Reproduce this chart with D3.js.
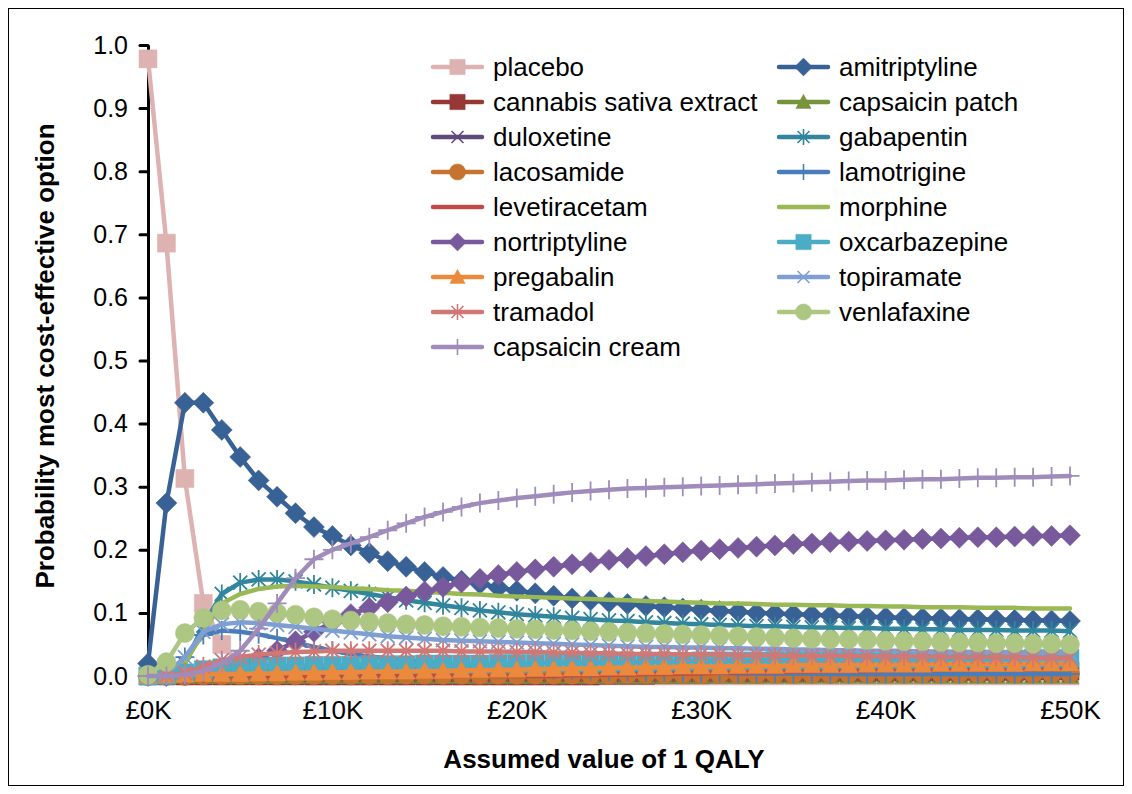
<!DOCTYPE html>
<html><head><meta charset="utf-8">
<script src="https://cdn.jsdelivr.net/npm/d3@7"></script>
<style>body{margin:0;background:#fff}svg{display:block}text{font-family:Arial,"Liberation Sans",sans-serif;fill:#000}</style>
</head><body><svg id="c" width="1132" height="794"></svg>
<script>
const wtpK = [0,1,2,3,4,5,6,7,8,9,10,11,12,13,14,15,16,17,18,19,20,21,22,23,24,25,26,27,28,29,30,31,32,33,34,35,36,37,38,39,40,41,42,43,44,45,46,47,48,49,50];
const xTickValues = [0,10,20,30,40,50];
const xTickLabels = ["£0K","£10K","£20K","£30K","£40K","£50K"];
const yTickValues = [0,0.1,0.2,0.3,0.4,0.5,0.6,0.7,0.8,0.9,1.0];
const yTickLabels = ["0.0","0.1","0.2","0.3","0.4","0.5","0.6","0.7","0.8","0.9","1.0"];

const seriesNames = ["placebo","amitriptyline","cannabis sativa extract","capsaicin patch","duloxetine","gabapentin","lacosamide","lamotrigine","levetiracetam","morphine","nortriptyline","oxcarbazepine","pregabalin","topiramate","tramadol","venlafaxine","capsaicin cream"];

const placebo = [0.978,0.686,0.313,0.115,0.05,0.02,0.008,0.003,0.001,0,0,0,0,0,0,0,0,0,0,0,0,0,0,0,0,0,0,0,0,0,0,0,0,0,0,0,0,0,0,0,0,0,0,0,0,0,0,0,0,0,0];
const amitriptyline = [0.02,0.274,0.433,0.433,0.39,0.347,0.31,0.284,0.258,0.236,0.222,0.207,0.195,0.182,0.173,0.165,0.157,0.151,0.146,0.14,0.135,0.131,0.127,0.123,0.12,0.117,0.114,0.111,0.109,0.107,0.105,0.103,0.102,0.1,0.099,0.098,0.097,0.096,0.095,0.094,0.093,0.092,0.092,0.091,0.09,0.09,0.089,0.089,0.088,0.088,0.087];
const cannabis = [0,0,0,0,0,0,0,0,0,0,0,0,0,0,0,0,0,0,0,0,0,0,0,0,0,0.001,0.001,0.001,0.002,0.002,0.002,0.003,0.003,0.003,0.004,0.004,0.004,0.005,0.005,0.005,0.006,0.006,0.006,0.006,0.007,0.007,0.007,0.007,0.008,0.008,0.008];
const capsaicinPatch = [0,0,0,0,0,0,0,0,0,0,0,0,0,0,0,0,0,0,0,0,0,0,0,0,0,0,0,0,0,0,0,0,0,0,0,0,0,0,0,0,0,0,0,0,0,0,0,0,0,0,0];
const duloxetine = [0,0,0.001,0.001,0.002,0.002,0.002,0.002,0.002,0.002,0.002,0.002,0.002,0.002,0.002,0.002,0.002,0.002,0.002,0.002,0.002,0.002,0.002,0.002,0.002,0.002,0.002,0.002,0.002,0.002,0.002,0.002,0.002,0.002,0.002,0.002,0.002,0.002,0.002,0.002,0.002,0.002,0.002,0.002,0.002,0.002,0.002,0.002,0.002,0.002,0.002];
const gabapentin = [0,0.002,0.02,0.08,0.13,0.148,0.153,0.153,0.15,0.145,0.14,0.135,0.13,0.125,0.12,0.116,0.112,0.108,0.104,0.101,0.098,0.096,0.094,0.092,0.09,0.088,0.087,0.085,0.084,0.083,0.082,0.081,0.08,0.079,0.079,0.078,0.077,0.077,0.076,0.076,0.075,0.075,0.074,0.074,0.073,0.073,0.073,0.072,0.072,0.072,0.071];
const lacosamide = [0,0,0,0.001,0.001,0.001,0.001,0.001,0.001,0.001,0.001,0.001,0.001,0.001,0.002,0.002,0.002,0.002,0.002,0.002,0.002,0.002,0.002,0.002,0.002,0.002,0.003,0.003,0.003,0.003,0.003,0.003,0.003,0.003,0.003,0.003,0.003,0.003,0.004,0.004,0.004,0.004,0.004,0.004,0.004,0.004,0.004,0.004,0.004,0.004,0.004];
const lamotrigine = [0,0.002,0.03,0.065,0.072,0.07,0.066,0.06,0.053,0.046,0.04,0.035,0.031,0.028,0.025,0.022,0.02,0.018,0.016,0.014,0.012,0.011,0.01,0.009,0.008,0.007,0.007,0.006,0.006,0.005,0.005,0.005,0.004,0.004,0.004,0.004,0.004,0.003,0.003,0.003,0.003,0.003,0.003,0.003,0.003,0.003,0.003,0.003,0.003,0.003,0.003];
const levetiracetam = [0,0,0,0,0,0,0,0,0,0,0,0,0,0,0,0,0,0,0,0,0,0,0,0.001,0.001,0.002,0.002,0.003,0.003,0.004,0.004,0.005,0.005,0.006,0.006,0.007,0.007,0.008,0.008,0.008,0.009,0.009,0.009,0.01,0.01,0.01,0.011,0.011,0.011,0.012,0.012];
const morphine = [0,0.003,0.02,0.07,0.115,0.13,0.138,0.142,0.143,0.142,0.141,0.139,0.138,0.136,0.135,0.133,0.132,0.13,0.129,0.127,0.126,0.125,0.124,0.123,0.122,0.121,0.12,0.119,0.118,0.117,0.116,0.115,0.115,0.114,0.113,0.113,0.112,0.112,0.111,0.111,0.11,0.11,0.109,0.109,0.109,0.108,0.108,0.108,0.107,0.107,0.107];
const nortriptyline = [0,0,0.002,0.005,0.01,0.018,0.028,0.04,0.055,0.07,0.085,0.098,0.108,0.117,0.126,0.134,0.141,0.148,0.154,0.16,0.165,0.169,0.173,0.177,0.18,0.184,0.187,0.19,0.193,0.196,0.199,0.201,0.203,0.205,0.207,0.209,0.21,0.212,0.213,0.214,0.215,0.216,0.217,0.218,0.219,0.22,0.22,0.221,0.222,0.222,0.223];
const oxcarbazepine = [0,0.001,0.005,0.01,0.013,0.014,0.015,0.016,0.016,0.017,0.017,0.017,0.018,0.018,0.018,0.019,0.019,0.019,0.019,0.02,0.02,0.02,0.021,0.021,0.021,0.022,0.022,0.022,0.023,0.023,0.024,0.024,0.024,0.024,0.025,0.025,0.025,0.025,0.026,0.026,0.026,0.026,0.026,0.027,0.027,0.027,0.027,0.027,0.028,0.028,0.028];
const pregabalin = [0,0.001,0.002,0.003,0.003,0.003,0.004,0.004,0.005,0.005,0.006,0.006,0.007,0.007,0.007,0.008,0.008,0.009,0.009,0.01,0.01,0.011,0.011,0.012,0.012,0.013,0.013,0.014,0.014,0.015,0.015,0.015,0.016,0.016,0.016,0.017,0.017,0.017,0.017,0.018,0.018,0.018,0.018,0.019,0.019,0.019,0.019,0.019,0.02,0.02,0.02];
const topiramate = [0,0.003,0.03,0.07,0.082,0.085,0.084,0.081,0.078,0.075,0.072,0.069,0.066,0.063,0.061,0.059,0.057,0.056,0.055,0.054,0.053,0.052,0.051,0.05,0.049,0.048,0.047,0.046,0.046,0.045,0.045,0.044,0.044,0.043,0.043,0.042,0.042,0.041,0.041,0.04,0.04,0.04,0.039,0.039,0.038,0.038,0.038,0.037,0.037,0.037,0.036];
const tramadol = [0,0.001,0.005,0.015,0.025,0.03,0.034,0.036,0.038,0.039,0.04,0.04,0.04,0.04,0.04,0.04,0.04,0.039,0.039,0.039,0.038,0.038,0.037,0.037,0.036,0.036,0.035,0.035,0.035,0.034,0.034,0.034,0.033,0.033,0.033,0.032,0.032,0.032,0.032,0.031,0.031,0.031,0.031,0.03,0.03,0.03,0.03,0.03,0.029,0.029,0.029];
const venlafaxine = [0.002,0.022,0.068,0.092,0.104,0.105,0.102,0.1,0.097,0.093,0.09,0.088,0.086,0.084,0.082,0.081,0.079,0.078,0.077,0.076,0.075,0.074,0.073,0.072,0.071,0.07,0.069,0.068,0.067,0.066,0.065,0.064,0.063,0.062,0.061,0.06,0.059,0.058,0.058,0.057,0.056,0.055,0.055,0.054,0.053,0.053,0.052,0.052,0.051,0.051,0.05];
const capsaicinCream = [0,0,0.002,0.008,0.02,0.04,0.075,0.115,0.155,0.185,0.2,0.21,0.22,0.231,0.242,0.252,0.26,0.268,0.274,0.278,0.282,0.285,0.288,0.291,0.293,0.295,0.297,0.298,0.299,0.3,0.301,0.302,0.303,0.304,0.305,0.306,0.307,0.308,0.309,0.31,0.31,0.311,0.312,0.312,0.313,0.314,0.314,0.315,0.315,0.316,0.317];

const seriesValues = [placebo,amitriptyline,cannabis,capsaicinPatch,duloxetine,gabapentin,lacosamide,lamotrigine,levetiracetam,morphine,nortriptyline,oxcarbazepine,pregabalin,topiramate,tramadol,venlafaxine,capsaicinCream];
const seriesColors = ["#DDB2B1","#386195","#953836","#77933C","#604A7B","#31859C","#C5732F","#4A7EBB","#BE4B48","#98B954","#77599C","#4BACC6","#EB8A3C","#7F9FD3","#D07875","#ADC682","#A08CBA"];
const seriesMarkers = ["square","diamond","square","triangle","x","asterisk","circle","plus","none","none","diamond","square","triangle","x","asterisk","circle","plus"];

(function(){
const svg = d3.select("#c");
const pLeft = 148, pRight = 1070, pTop = 45, pBottom = 676;
const FONT = "Arial, 'Liberation Sans', sans-serif";

svg.append("rect").attr("x",8.5).attr("y",8.5).attr("width",1115).attr("height",777)
  .attr("fill","#fff").attr("stroke","#000").attr("stroke-width",1);

const x = d3.scaleLinear().domain([0,50]).range([pLeft,pRight]);
const y = d3.scaleLinear().domain([0,1]).range([pBottom,pTop]);

const xAxis = svg.append("g").attr("transform",`translate(0,${pBottom})`)
  .call(d3.axisBottom(x).tickValues(xTickValues).tickFormat((d,i)=>xTickLabels[i]).tickSize(0).tickPadding(25));
xAxis.select(".domain").remove();
xAxis.selectAll("text").attr("font-size",26).style("font-family",FONT).attr("fill","#000");

const yAxis = svg.append("g").attr("transform",`translate(${pLeft},0)`)
  .call(d3.axisLeft(y).tickValues(yTickValues).tickFormat((d,i)=>yTickLabels[i]).tickSize(8).tickSizeOuter(0).tickPadding(12));
yAxis.select(".domain").attr("stroke","#000").attr("stroke-width",3);
yAxis.selectAll(".tick line").attr("stroke","#000").attr("stroke-width",3).attr("stroke-linecap","round");
yAxis.selectAll("text").attr("font-size",25).style("font-family",FONT).attr("fill","#000");

function markerPath(type, s){
  const h = 9*s;
  switch(type){
    case "square": return `M${-h},${-h}h${2*h}v${2*h}h${-2*h}Z`;
    case "diamond": { const d=10.5*s; return `M0,${-d}L${d},0L0,${d}L${-d},0Z`; }
    case "triangle": return `M0,${-9*s}L${9*s},${7.5*s}L${-9*s},${7.5*s}Z`;
    case "circle": { const r=9.5*s; return `M${r},0A${r},${r} 0 1,1 ${-r},0A${r},${r} 0 1,1 ${r},0Z`; }
    case "x": { const a=7*s; return `M${-a},${-a}L${a},${a}M${-a},${a}L${a},${-a}`; }
    case "asterisk": { const a=7*s, b=9.5*s; return `M${-a},${-a}L${a},${a}M${-a},${a}L${a},${-a}M0,${-b}V${b}`; }
    case "plus": { const b=9.5*s; return `M${-b},0H${b}M0,${-b}V${b}`; }
  }
  return "";
}
const filled = t => ["square","diamond","triangle","circle"].includes(t);

const line = d3.line().x((d,i)=>x(wtpK[i])).y(d=>y(d));
const plot = svg.append("g");
seriesValues.forEach((vals,si)=>{
  const g = plot.append("g");
  const col = seriesColors[si], mk = seriesMarkers[si];
  g.append("path").attr("d",line(vals)).attr("fill","none").attr("stroke",col)
    .attr("stroke-width",4.5).attr("stroke-linejoin","round").attr("stroke-linecap","round");
  if(mk!=="none"){
    g.selectAll("path.m").data(vals).enter().append("path").attr("class","m")
      .attr("transform",(d,i)=>`translate(${x(wtpK[i])},${y(d)})`)
      .attr("d",markerPath(mk,1))
      .attr("fill",filled(mk)?col:"none")
      .attr("stroke",col).attr("stroke-width",filled(mk)?0.5:1.8);
  }
});

const legend = svg.append("g");
const colX = [433, 779];
seriesNames.forEach((name,i)=>{
  const col = i%2, row = Math.floor(i/2);
  const lx = colX[col], ly = 67 + row*35;
  const c = seriesColors[i], mk = seriesMarkers[i];
  legend.append("line").attr("x1",lx).attr("x2",lx+49).attr("y1",ly).attr("y2",ly)
    .attr("stroke",c).attr("stroke-width",4.5).attr("stroke-linecap","round");
  if(mk!=="none"){
    legend.append("path").attr("transform",`translate(${lx+24.5},${ly})`).attr("d",markerPath(mk,0.85))
      .attr("fill",filled(mk)?c:"none").attr("stroke",c).attr("stroke-width",filled(mk)?0.5:1.6);
  }
  legend.append("text").attr("x",lx+60).attr("y",ly).attr("dy","0.35em").attr("font-size",26).text(name);
});

svg.append("text").attr("x",604).attr("y",768).attr("text-anchor","middle")
  .attr("font-size",26).attr("font-weight","bold").text("Assumed value of 1 QALY");
svg.append("text").attr("transform",`translate(45,356) rotate(-90)`).attr("text-anchor","middle")
  .attr("dy","0.35em").attr("font-size",26).attr("font-weight","bold").text("Probability most cost-effective option");
})();
</script></body></html>
